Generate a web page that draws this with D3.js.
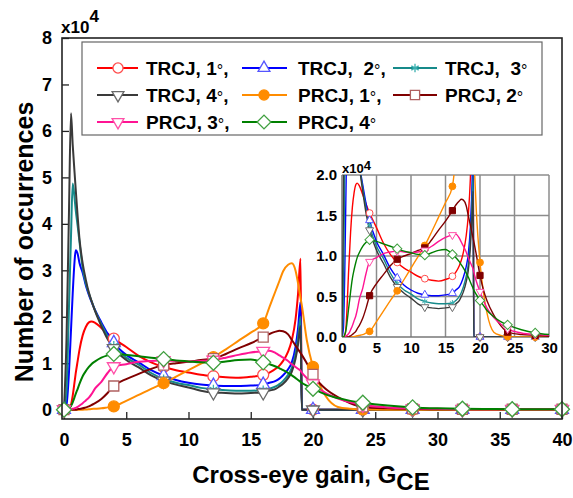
<!DOCTYPE html>
<html><head><meta charset="utf-8">
<script src="https://cdnjs.cloudflare.com/ajax/libs/d3/7.8.5/d3.min.js"></script>
<style>
body{margin:0;background:#fff}
svg{display:block}
text{font-family:"Liberation Sans",Arial,sans-serif;font-weight:bold;fill:#000}
</style>
</head><body>
<svg id="c" width="573" height="498"></svg>
<script>
// x grid (cross-eye gain) shared by all series
const gain = [0,0.2,0.4,0.56,0.7,0.85,0.94,1.1,1.25,1.5,1.75,2,2.2,2.5,3,3.5,4,5,6,7,8,9,10,11,12,13,14,15,16,16.5,17,17.3,17.6,18,18.3,18.6,18.8,19,19.1,19.5,20,20.5,21,22,23,24,26,28,30,32,34,36,38,40];
// occurrences, x10^4
const trcj1 = [0,0,0.02,0.1,0.3,0.6,0.78,1.05,1.3,1.6, 1.78,1.88,1.9,1.87,1.76,1.64,1.53, 1.35,1.16,1.02,0.92,0.85,0.8,0.75,0.72,0.7,0.69,0.71,0.75, 0.8,0.88,0.95,1.05,1.25,1.5,1.95,2.5,3.25,0,0, 0,0,0,0,0,0, 0,0,0,0,0,0,0,0];
const trcj2 = [0,0.1,0.8,1.7,2.5,3.2,3.43,3.35,3.15,2.95, 2.68,2.47,2.33,2.14,1.88,1.64,1.44, 1.18,1.02,0.85,0.73,0.64,0.58,0.54,0.52,0.51,0.51,0.52,0.54, 0.58,0.62,0.67,0.74,0.87,1.02,1.35,1.75,2.32,0,0, 0,0,0,0,0,0, 0,0,0,0,0,0,0,0];
const trcj3 = [0,0.4,2.2,3.7,4.87,4.55,4.3,3.95,3.6,3.05, 2.72,2.5,2.35,2.13,1.84,1.58,1.38, 1.12,0.97,0.79,0.66,0.58,0.53,0.47,0.44,0.42,0.41,0.41,0.42, 0.45,0.5,0.55,0.62,0.75,0.9,1.2,1.55,2.0,0,0, 0,0,0,0,0,0, 0,0,0,0,0,0,0,0];
const trcj4 = [0,1.5,4.25,6.38,5.7,5.1,4.75,4.15,3.66,3.15, 2.8,2.52,2.35,2.12,1.8,1.52,1.32, 1.07,0.91,0.74,0.62,0.54,0.48,0.41,0.37,0.36,0.35,0.36,0.37, 0.41,0.45,0.5,0.56,0.68,0.82,1.1,1.4,1.8,0,0, 0,0,0,0,0,0, 0,0,0,0,0,0,0,0];
const prcj1 = [0,0,0,0,0,0,0,0,0,0, 0.005,0.01,0.015,0.02,0.03,0.05,0.07, 0.19,0.32,0.45,0.57,0.71,0.85,0.99,1.13,1.3,1.48,1.66,1.86, 2.21,2.56,2.77,2.98,3.12,3.15,2.99,2.72,2.4,2.25,1.5, 0.92,0.55,0.3,0.06,0.02,0.005, 0,0,0,0,0,0,0,0];
const prcj2 = [0,0,0,0,0,0,0,0.01,0.015,0.03, 0.05,0.07,0.1,0.14,0.23,0.36,0.51, 0.66,0.77,0.88,0.96,1.0,1.03,1.07,1.1,1.2,1.32,1.43,1.56, 1.63,1.68,1.7,1.69,1.62,1.5,1.38,1.3,1.22,1.18,1.0, 0.76,0.58,0.45,0.27,0.14,0.06, 0.03,0.02,0.01,0.01,0.01,0.01,0.01,0.01];
const prcj3 = [0,0,0,0.01,0.02,0.03,0.04,0.06,0.09,0.14, 0.2,0.26,0.33,0.46,0.6,0.79,0.93, 0.98,1.03,1.05,1.06,1.05,1.04,1.05,1.07,1.12,1.18,1.23,1.26, 1.27,1.22,1.17,1.12,1.05,0.98,0.92,0.88,0.84,0.8,0.68, 0.56,0.45,0.36,0.24,0.16,0.1, 0.05,0.03,0.02,0.01,0.01,0.01,0.01,0.01];
const prcj4 = [0,0,0.03,0.08,0.16,0.27,0.34,0.45,0.56,0.72, 0.83,0.92,0.98,1.04,1.12,1.17,1.2, 1.18,1.15,1.12,1.09,1.06,1.04,1.02,1.01,1.04,1.07,1.08,1.02, 0.98,0.93,0.89,0.85,0.79,0.74,0.68,0.64,0.6,0.58,0.52, 0.45,0.39,0.33,0.25,0.19,0.15, 0.09,0.05,0.03,0.02,0.015,0.01,0.01,0.01];

const seriesNames = ["TRCJ, 1","TRCJ,  2","TRCJ,  3","TRCJ, 4","PRCJ, 1","PRCJ, 2","PRCJ, 3","PRCJ, 4"];
const xTicks = [0,5,10,15,20,25,30,35,40];
const yTicks = [0,1,2,3,4,5,6,7,8];
const insetXTicks = [0,5,10,15,20,25,30];
const insetYTicks = [0,0.5,1.0,1.5,2.0];

const values = [trcj1,trcj2,trcj3,trcj4,prcj1,prcj2,prcj3,prcj4];
const styles = [
  {color:"#ff0000", mstroke:"#ff4d4d", fill:"#fff", sym:"circle", comma:true},
  {color:"#0000ff", mstroke:"#5555ff", fill:"#fff", sym:"triUp", comma:true},
  {color:"#168a8a", mstroke:"#3ab0b0", fill:"none", sym:"asterisk", comma:false},
  {color:"#3a3a3a", mstroke:"#6a6a6a", fill:"#fff", sym:"triDown", comma:true},
  {color:"#ff8c00", mstroke:"#ff8c00", fill:"#ff8c00", sym:"circle", comma:true},
  {color:"#800000", mstroke:"#b06060", fill:"#fff", insetFill:"#800000", insetStroke:"#800000", sym:"square", comma:false},
  {color:"#ff1493", mstroke:"#ff50a8", fill:"#fff", sym:"triDown", comma:true},
  {color:"#008000", mstroke:"#40a040", fill:"#fff", sym:"diamond", comma:false}
];
const series = seriesNames.map((n,i)=>({name:n, vals:values[i], ...styles[i],
  pts: gain.map((g,j)=>({x:g,y:values[i][j]}))}));

const svg = d3.select("#c");
const x = d3.scaleLinear().domain([-0.16,40]).range([62,562]);
const y = d3.scaleLinear().domain([-0.2,8]).range([419,38]);

function symPath(type, s){
  switch(type){
    case "circle": return d3.symbol(d3.symbolCircle, 95*s*s)();
    case "triUp": case "triDown": return d3.symbol(d3.symbolTriangle, 72*s*s)();
    case "square": return d3.symbol(d3.symbolSquare, 100*s*s)();
    case "diamond": return d3.symbol(d3.symbolSquare, 112*s*s)();
    case "asterisk": return d3.symbol(d3.symbolAsterisk, 60*s*s)();
  }
}
function symRot(type){ return type==="triDown"?" rotate(180)":(type==="diamond"?" rotate(45)":""); }

function drawMarker(g, s, px, py, scale, inset){
  const fill = inset && s.insetFill ? s.insetFill : s.fill;
  const stroke = inset && s.insetStroke ? s.insetStroke : s.mstroke;
  g.append("path").attr("d", symPath(s.sym, scale))
    .attr("transform", `translate(${px},${py})${symRot(s.sym)}`)
    .attr("fill", fill).attr("stroke", stroke)
    .attr("stroke-width", inset?1:1.3);
}

// clip
const defs = svg.append("defs");
defs.append("clipPath").attr("id","mainClip").append("rect").attr("x",62).attr("y",38).attr("width",500).attr("height",381);

// axes
const xAxis = d3.axisBottom(x).tickValues(xTicks).tickSizeInner(-7).tickSizeOuter(0).tickPadding(14);
const gx = svg.append("g").attr("transform","translate(0,419)").call(xAxis);
gx.select(".domain").remove();
gx.selectAll("text").attr("font-size",18).style("font-family","'Liberation Sans',Arial,sans-serif").style("font-weight","bold");
gx.selectAll("line").attr("stroke","#222").attr("stroke-width",1.3);

const yAxis = d3.axisLeft(y).tickValues(yTicks).tickSizeInner(-7).tickSizeOuter(0).tickPadding(10);
const gy = svg.append("g").attr("transform","translate(62,0)").call(yAxis);
gy.select(".domain").remove();
gy.selectAll("text").attr("font-size",18).style("font-family","'Liberation Sans',Arial,sans-serif").style("font-weight","bold");
gy.selectAll("line").attr("stroke","#222").attr("stroke-width",1.3);

// lines
const line = d3.line().x(d=>x(d.x)).y(d=>y(d.y)).curve(d3.curveMonotoneX);
const lg = svg.append("g").attr("clip-path","url(#mainClip)");
series.forEach(s=>{
  lg.append("path").datum(s.pts).attr("d",line).attr("fill","none")
    .attr("stroke",s.color).attr("stroke-width",2).attr("stroke-linejoin","round");
});
const mg = svg.append("g");
series.forEach(s=>{
  s.pts.filter(d=>d.x%4===0).forEach(d=>drawMarker(mg, s, x(d.x), y(d.y), 1, false));
});

// frame
svg.append("rect").attr("x",62).attr("y",38).attr("width",500).attr("height",381)
  .attr("fill","none").attr("stroke","#222").attr("stroke-width",1.6);

// x10^4 main
const m = svg.append("text").attr("x",61).attr("y",33).attr("font-size",17);
m.append("tspan").text("x10");
m.append("tspan").attr("font-size",17).attr("dy",-11).text("4");

// axis titles
const xt = svg.append("text").attr("x",311).attr("y",483).attr("text-anchor","middle").attr("font-size",24);
xt.append("tspan").text("Cross-eye gain, G");
xt.append("tspan").attr("dy",7).text("CE");
svg.append("text").attr("transform","translate(33,242) rotate(-90)").attr("text-anchor","middle")
  .attr("font-size",25).text("Number of occurrences");

// legend
const leg = svg.append("g");
leg.append("rect").attr("x",82).attr("y",42).attr("width",460).attr("height",93)
  .attr("fill","#fff").attr("stroke","#666").attr("stroke-width",1.2);
const colLine = [[97,138],[242,287],[393,437]];
const colMark = [118,264,415];
const colText = [146,298,445];
const rowY = [68,95,122];
series.forEach((s,i)=>{
  const r = Math.floor(i/3), c = i%3, yy = rowY[r];
  leg.append("line").attr("x1",colLine[c][0]).attr("x2",colLine[c][1]).attr("y1",yy).attr("y2",yy)
    .attr("stroke",s.color).attr("stroke-width",2);
  drawMarker(leg, s, colMark[c], yy, 0.92, false);
  const t = leg.append("text").attr("x",colText[c]).attr("y",yy+7).attr("font-size",19).attr("xml:space","preserve");
  t.append("tspan").text(s.name);
  t.append("tspan").attr("font-weight","normal").style("font-weight","normal").attr("font-size",16).attr("dy",1).text("°");
  if (s.comma) t.append("tspan").attr("dy",-1).text(",");
});

// inset
const xi = d3.scaleLinear().domain([0,30]).range([342,549]);
const yi = d3.scaleLinear().domain([0,2]).range([337,175]);
const ins = svg.append("g");
ins.append("rect").attr("x",312).attr("y",150).attr("width",249).attr("height",206).attr("fill","#fff");
defs.append("clipPath").attr("id","insetClip").append("rect").attr("x",342).attr("y",175).attr("width",207).attr("height",162);
// grid
insetXTicks.filter(v=>v>0).forEach(v=>{
  ins.append("line").attr("x1",xi(v)).attr("x2",xi(v)).attr("y1",yi(0)).attr("y2",yi(2))
    .attr("stroke","#8c8c8c").attr("stroke-width",1.5);
});
insetYTicks.filter(v=>v>0).forEach(v=>{
  ins.append("line").attr("x1",xi(0)).attr("x2",xi(30)).attr("y1",yi(v)).attr("y2",yi(v))
    .attr("stroke","#8c8c8c").attr("stroke-width",1.5);
});
ins.append("line").attr("x1",xi(0)).attr("x2",xi(0)).attr("y1",yi(0)).attr("y2",yi(2)).attr("stroke","#777").attr("stroke-width",1.5);
ins.append("line").attr("x1",xi(0)).attr("x2",xi(30)).attr("y1",yi(0)).attr("y2",yi(0)).attr("stroke","#777").attr("stroke-width",1.5);
const ixa = d3.axisBottom(xi).tickValues(insetXTicks).tickSize(0).tickPadding(5);
const gix = ins.append("g").attr("transform",`translate(0,${yi(0)})`).call(ixa);
gix.select(".domain").remove();
gix.selectAll("text").attr("font-size",15).style("font-family","'Liberation Sans',Arial,sans-serif").style("font-weight","bold");
const iya = d3.axisLeft(yi).tickValues(insetYTicks).tickSize(0).tickPadding(5).tickFormat(d3.format(".1f"));
const giy = ins.append("g").attr("transform",`translate(${xi(0)},0)`).call(iya);
giy.select(".domain").remove();
giy.selectAll("text").attr("font-size",15).style("font-family","'Liberation Sans',Arial,sans-serif").style("font-weight","bold");
const lineI = d3.line().x(d=>xi(d.x)).y(d=>yi(d.y)).curve(d3.curveMonotoneX);
const ilg = ins.append("g").attr("clip-path","url(#insetClip)");
series.forEach(s=>{
  ilg.append("path").datum(s.pts.filter(d=>d.x<=32)).attr("d",lineI).attr("fill","none")
    .attr("stroke",s.color).attr("stroke-width",1.4).attr("stroke-linejoin","round");
});
series.forEach(s=>{
  s.pts.filter(d=>d.x%4===0 && d.x>0 && d.x<=30 && d.y<=2).forEach(d=>drawMarker(ins, s, xi(d.x), yi(d.y), 0.62, true));
});
const it = ins.append("text").attr("x",342).attr("y",173).attr("font-size",13);
it.append("tspan").text("x10");
it.append("tspan").attr("dy",-3).text("4");
</script>
</body></html>
